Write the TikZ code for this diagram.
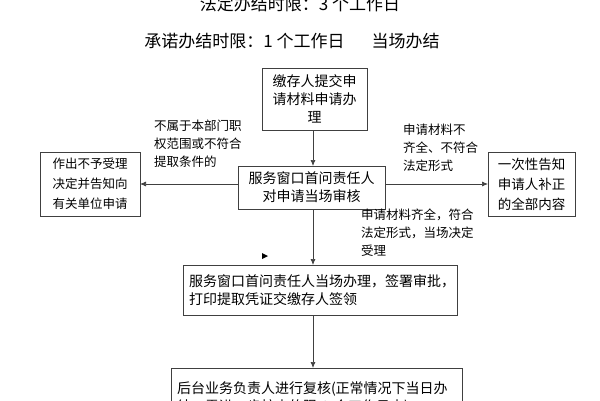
\documentclass[tikz,border=0pt]{standalone}
\usepackage{fontspec}
\setmainfont{Noto Sans CJK SC}
\usetikzlibrary{arrows.meta}
\begin{document}
\begin{tikzpicture}[x=1pt,y=-1pt,
  box/.style={draw=black!75,line width=0.8pt,fill=white,inner sep=0pt,font=\fontsize{14}{18}\selectfont,align=center},
  lbl/.style={font=\fontsize{12.5}{18}\selectfont,align=left,anchor=north west,inner sep=0pt},
  arr/.style={draw=black!75,line width=0.7pt,-{Latex[length=6pt,width=5pt]}}]
\useasboundingbox (0,0) rectangle (600,400);
\clip (0,0) rectangle (600,400);
\node[font=\fontsize{17}{20}\selectfont] (t1) at (300,4) {法定办结时限：3 个工作日};
\node[font=\fontsize{17}{20}\selectfont] (t2) at (292,41) {承诺办结时限：1 个工作日\hspace{1.6em}当场办结};
\node[box,minimum width=105pt,minimum height=62pt] (a) at (314.5,99) {缴存人提交申\\请材料申请办\\理};
\node[box,minimum width=147pt,minimum height=43pt] (b) at (311.5,187.5) {服务窗口首问责任人\\对申请当场审核};
\node[box,minimum width=100pt,minimum height=64pt,font=\fontsize{12.5}{20}\selectfont] (l) at (90,184) {作出不予受理\\决定并告知向\\有关单位申请};
\node[box,minimum width=87pt,minimum height=64pt,font=\fontsize{13.5}{20}\selectfont] (r) at (531.5,184) {一次性告知\\申请人补正\\的全部内容};
\node[box,minimum width=274pt,minimum height=50pt,align=left,text width=262pt] (c) at (320,290) {服务窗口首问责任人当场办理，签署审批，\\打印提取凭证交缴存人签领};
\node[box,minimum width=291pt,minimum height=60pt,align=left,text width=279pt,anchor=north] (d) at (316.5,368) {后台业务负责人进行复核(正常情况下当日办\\结，需进一步核查的限 3 个工作日内)};
\node[lbl] (la) at (154,120) {不属于本部门职\\权范围或不符合\\提取条件的};
\node[lbl] (lb) at (403,124) {申请材料不\\齐全、不符合\\法定形式};
\node[lbl] (lc) at (361,209) {申请材料齐全，符合\\法定形式，当场决定\\受理};
\draw[arr] (313,130) -- (313,166);
\draw[arr] (238,184) -- (140,184);
\draw[arr] (385,184) -- (488,184);
\draw[arr] (313,209) -- (313,265);
\draw[arr] (313,315) -- (313,368);
\fill (262,253) coordinate (m) -- ++(6,3) -- ++(-6,3) -- cycle;
\end{tikzpicture}
\end{document}
